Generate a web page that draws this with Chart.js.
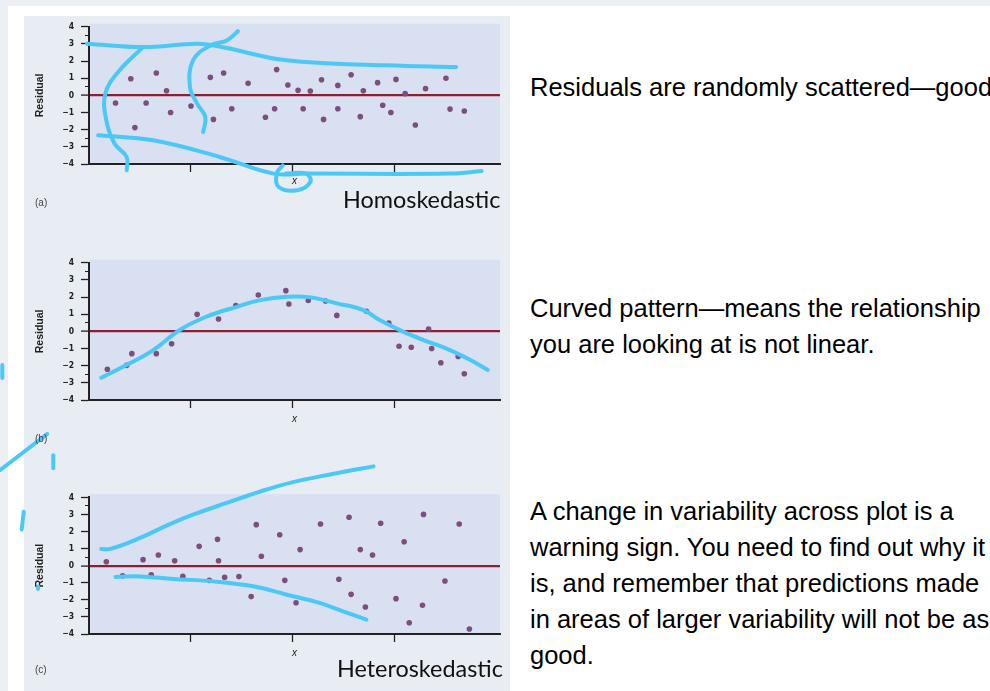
<!DOCTYPE html>
<html>
<head>
<meta charset="utf-8">
<script src="https://cdn.jsdelivr.net/npm/chart.js@4"></script>
<style>
  html, body { margin: 0; padding: 0; }
  body { width: 990px; height: 691px; overflow: hidden; background: #fff; position: relative;
         font-family: 'Liberation Sans', Arial, sans-serif; }
  #topband { position: absolute; left: 0; top: 0; width: 990px; height: 6px; background: #eceff3; }
  #leftband { position: absolute; left: 0; top: 0; width: 8px; height: 691px; background: #eceff3; }
  #panel { position: absolute; left: 24px; top: 16px; width: 486px; height: 675px; background: #e8ecf3; }
  .box { position: absolute; left: 0; width: 510px; }
  .tag { position: absolute; left: 35px; font-size: 10px; line-height: 10px; color: #444; }
  .kind { position: absolute; font-family: Lato, 'Noto Sans', sans-serif; font-size: 23.4px; line-height: 24px; color: #111; }
  .note { position: absolute; left: 530px; font-size: 25.5px; line-height: 36px; white-space: nowrap; color: #000; }
</style>
</head>
<body>
<div id="topband"></div>
<div id="leftband"></div>
<div id="panel"></div>

<div class="box" style="top:0;height:236px"><canvas id="chartA"></canvas></div>
<div class="box" style="top:236px;height:240px"><canvas id="chartB"></canvas></div>
<div class="box" style="top:455px;height:236px"><canvas id="chartC"></canvas></div>

<div class="tag" style="top:198px">(a)</div>
<div class="tag" style="top:434px">(b)</div>
<div class="tag" style="top:665px">(c)</div>
<div class="kind" style="left:343px;top:187px">Homoskedastic</div>
<div class="kind" style="left:337px;top:656px">Heteroskedastic</div>

<div class="note" style="top:69px">Residuals are randomly scattered—good</div>
<div class="note" style="top:290px">Curved pattern—means the relationship<br>you are looking at is not linear.</div>
<div class="note" style="top:493px">A change in variability across plot is a<br>warning sign. You need to find out why it<br>is, and remember that predictions made<br>in areas of larger variability will not be as<br>good.</div>

<script>
// y tick labels (integers) and x tick positions
const yLabels = [-4, -3, -2, -1, 0, 1, 2, 3, 4];
const xTicks = [1, 2, 3];

// (a) homoskedastic residuals
const aX = [0.26, 0.41, 0.45, 0.56, 0.66, 0.76, 0.80, 1.00, 1.19, 1.22, 1.32, 1.40, 1.56, 1.73, 1.82, 1.84, 1.95, 2.05, 2.10,
            2.17, 2.28, 2.30, 2.44, 2.44, 2.57, 2.66, 2.69, 2.83, 2.88, 2.96, 3.01, 3.10, 3.20, 3.30, 3.50, 3.54, 3.68];
const aY = [-0.45, 0.97, -1.88, -0.45, 1.30, 0.27, -1.00, -0.62, 1.05, -1.40, 1.30, -0.78, 0.70, -1.28, -0.78, 1.50, 0.60, 0.29, -0.78,
            0.25, 0.91, -1.40, 0.58, -0.78, 1.20, -1.24, 0.27, 0.74, -0.58, -1.00, 0.93, 0.10, -1.73, 0.39, 1.00, -0.80, -0.91];

// (b) curved pattern
const bX = [0.18, 0.37, 0.42, 0.66, 0.81, 1.06, 1.27, 1.44, 1.66, 1.93, 1.96, 2.15, 2.32, 2.43, 2.72, 2.94, 3.04, 3.16, 3.33, 3.36, 3.45, 3.62, 3.68];
const bY = [-2.21, -1.98, -1.30, -1.30, -0.72, 0.99, 0.72, 1.51, 2.12, 2.37, 1.59, 1.80, 1.77, 0.93, 1.17, 0.49, -0.87, -0.93, 0.14, -1.00, -1.83, -1.46, -2.47];

// (c) heteroskedastic residuals
const cX = [0.17, 0.33, 0.53, 0.61, 0.68, 0.84, 0.92, 1.08, 1.18, 1.26, 1.27, 1.33, 1.47, 1.59, 1.64, 1.69, 1.87, 1.92,
            2.03, 2.07, 2.27, 2.45, 2.55, 2.57, 2.66, 2.71, 2.78, 2.86, 3.01, 3.09, 3.14, 3.27, 3.28, 3.49, 3.63, 3.73];
const cY = [0.23, -0.59, 0.35, -0.53, 0.62, 0.29, -0.62, 1.13, -0.86, 1.54, 0.29, -0.68, -0.64, -1.81, 2.40, 0.55, 1.81, -0.86,
            -2.17, 0.94, 2.44, -0.80, 2.83, -1.68, 0.94, -2.42, 0.62, 2.48, -1.93, 1.40, -3.34, -2.32, 3.00, -0.90, 2.44, -3.71];

// hand drawn pen marks, in each panel's data units
const penA = [
  [[-0.02, 3.01], [0.53, 2.81], [1.06, 3.01], [1.28, 2.85], [1.94, 2.04], [2.92, 1.75], [3.60, 1.65]],
  [[0.53, 2.81], [0.30, 1.46], [0.16, 0.10], [0.17, -1.46], [0.25, -2.81], [0.37, -3.59], [0.37, -4.37]],
  [[1.46, 3.74], [1.35, 3.20], [1.19, 2.91], [1.02, 2.04], [0.99, 0.48], [1.06, -0.48], [1.14, -1.26], [1.12, -2.14]],
  [[0.09, -2.33], [0.63, -2.62], [1.28, -3.59], [1.81, -4.56], [2.13, -4.56], [3.54, -4.56], [3.85, -4.41]],
  [[1.90, -4.08], [1.84, -4.56], [1.86, -5.34], [2.04, -5.53], [2.17, -5.05], [2.13, -4.56], [1.93, -4.56]]
];
const penB = [
  [[0.12, -2.70], [0.40, -1.86], [0.63, -1.09], [0.89, 0.08], [1.15, 0.85], [1.45, 1.43], [1.68, 1.82], [1.94, 2.01], [2.17, 1.98],
   [2.43, 1.63], [2.69, 1.24], [2.85, 0.66], [3.08, -0.02], [3.28, -0.51], [3.50, -0.99], [3.74, -1.67], [3.91, -2.25]],
  [[-0.85, -1.96], [-0.85, -2.72]],
  [[-0.87, -8.08], [-0.41, -5.98]],
  [[-0.35, -7.22], [-0.35, -7.98]]
];
const penC = [
  [[0.12, 0.98], [0.21, 0.98], [0.50, 1.62], [0.76, 2.34], [1.02, 2.98], [1.35, 3.67], [1.68, 4.34], [2.00, 4.89], [2.40, 5.38], [2.79, 5.81]],
  [[0.26, -0.66], [0.50, -0.63], [0.83, -0.78], [1.22, -0.92], [1.61, -1.21], [1.94, -1.70], [2.26, -2.18], [2.49, -2.67], [2.72, -3.16]],
  [[-0.64, 3.16], [-0.66, 2.11]],
  [[-0.50, -1.22], [-0.50, -1.36]]
];

const PEN = '#4cc8f6';
const DOT = '#7d4e7d';
const ZERO = '#8e1f33';
const INK = '#222';
const tickFont = { family: "'Liberation Sans Narrow', 'DejaVu Sans Condensed', sans-serif", size: 8.5, weight: 'bold' };

const plotBg = {
  id: 'plotBg',
  beforeDraw(chart) {
    const { ctx, chartArea: a } = chart;
    ctx.save();
    ctx.fillStyle = '#d8e0f1';
    ctx.fillRect(a.left, a.top - 3, a.right - a.left, a.bottom - a.top + 3);
    ctx.restore();
  }
};

function residualChart(id, xs, ys, pens, box) {
  const points = xs.map((x, i) => ({ x: x, y: ys[i] }));
  const marks = pens.map(p => ({
    data: p.map(q => ({ x: q[0], y: q[1] })),
    showLine: true,
    pointRadius: 0,
    borderColor: PEN,
    borderWidth: 4,
    tension: 0.4,
    capBezierPoints: false,
    clip: false,
    borderCapStyle: 'round',
    borderJoinStyle: 'round',
    order: 0
  }));
  return new Chart(document.getElementById(id), {
    type: 'scatter',
    data: {
      datasets: [{ data: points, pointRadius: 2.8, pointBackgroundColor: DOT, pointBorderWidth: 0, order: 1 }, ...marks]
    },
    options: {
      responsive: true,
      maintainAspectRatio: false,
      animation: false,
      events: [],
      layout: { padding: { top: box.top, right: 10, left: 0, bottom: 0 } },
      plugins: { legend: { display: false }, tooltip: { enabled: false } },
      scales: {
        x: {
          type: 'linear',
          min: 0,
          max: 4.03,
          afterBuildTicks: s => { s.ticks = xTicks.map(v => ({ value: v })); },
          afterFit: s => { s.height = box.axisH; },
          ticks: { callback: () => '' },
          grid: { drawOnChartArea: false, tickLength: 8, tickColor: INK, tickWidth: 1.3 },
          border: { color: INK, width: 2 },
          title: { display: true, text: 'x', color: INK, padding: { top: 0, bottom: box.titlePad },
                   font: { family: "'Liberation Sans', sans-serif", style: 'italic', size: 10 } }
        },
        y: {
          weight: 1,
          min: -4,
          max: 4,
          afterFit: s => { s.width = 89; },
          ticks: {
            stepSize: 1,
            padding: 7,
            color: INK,
            font: tickFont,
            callback: v => yLabels.includes(v) ? (v < 0 ? '\u2212' + Math.abs(v) : String(v)) : ''
          },
          grid: {
            drawOnChartArea: true,
            color: c => c.tick && c.tick.value === 0 ? ZERO : 'rgba(0,0,0,0)',
            lineWidth: c => c.tick && c.tick.value === 0 ? 2.2 : 1,
            tickLength: 8,
            tickColor: INK,
            tickWidth: 1.3
          },
          border: { color: INK, width: 2 },
          title: { display: true, text: 'Residual', color: INK, padding: { top: 34, bottom: 0 },
                   font: { family: "'Liberation Sans', sans-serif", size: 10.5, weight: 'bold' } }
        },
        y2: {
          position: 'left',
          weight: 0,
          min: -4,
          max: 4,
          afterFit: s => { s.width = 0; },
          ticks: { stepSize: 0.5, callback: () => '', padding: 0 },
          grid: { drawOnChartArea: false, tickLength: 4, tickColor: INK, tickWidth: 1 },
          border: { display: false }
        }
      }
    },
    plugins: [plotBg]
  });
}

residualChart('chartA', aX, aY, penA, { top: 26.7, axisH: 72, titlePad: 48.6 });
residualChart('chartB', bX, bY, penB, { top: 26.7, axisH: 76, titlePad: 50.6 });
residualChart('chartC', cX, cY, penC, { top: 42.3, axisH: 57, titlePad: 31.6 });
</script>
</body>
</html>
